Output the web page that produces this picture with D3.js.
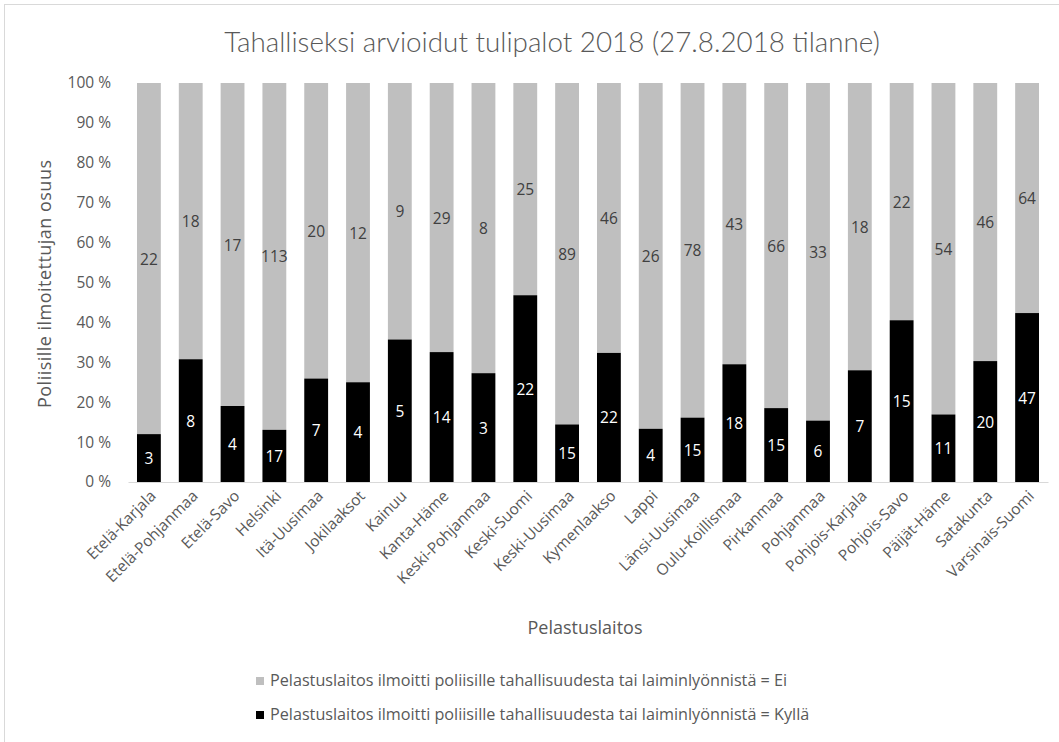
<!DOCTYPE html>
<html>
<head>
<meta charset="utf-8">
<script src="https://cdn.jsdelivr.net/npm/d3@7"></script>
<style>
  body { margin: 0; background: #fff; }
  text { font-family: "Open Sans", sans-serif; }
</style>
</head>
<body>
<svg id="chart" width="1059" height="742"></svg>
<script>
"use strict";

// Data
const laitokset = ["Etelä-Karjala", "Etelä-Pohjanmaa", "Etelä-Savo", "Helsinki", "Itä-Uusimaa",
  "Jokilaaksot", "Kainuu", "Kanta-Häme", "Keski-Pohjanmaa", "Keski-Suomi", "Keski-Uusimaa",
  "Kymenlaakso", "Lappi", "Länsi-Uusimaa", "Oulu-Koillismaa", "Pirkanmaa", "Pohjanmaa",
  "Pohjois-Karjala", "Pohjois-Savo", "Päijät-Häme", "Satakunta", "Varsinais-Suomi"];
const kylla = [3, 8, 4, 17, 7, 4, 5, 14, 3, 22, 15, 22, 4, 15, 18, 15, 6, 7, 15, 11, 20, 47];
const ei = [22, 18, 17, 113, 20, 12, 9, 29, 8, 25, 89, 46, 26, 78, 43, 66, 33, 18, 22, 54, 46, 64];
const yTicks = [0, 0.1, 0.2, 0.3, 0.4, 0.5, 0.6, 0.7, 0.8, 0.9, 1];
const legendLabels = [
  "Pelastuslaitos ilmoitti poliisille tahallisuudesta tai laiminlyönnistä = Ei",
  "Pelastuslaitos ilmoitti poliisille tahallisuudesta tai laiminlyönnistä = Kyllä"
];

const svg = d3.select("#chart");
const textCol = "#595959";

// chart border
svg.append("rect")
  .attr("x", 4.5).attr("y", 4.5)
  .attr("width", 1080).attr("height", 760)
  .attr("fill", "none").attr("stroke", "#d9d9d9");

const x = d3.scaleBand()
  .domain(laitokset)
  .range([128, 1048])
  .paddingInner(0.43)
  .paddingOuter(0.215);

const y = d3.scaleLinear().domain([0, 1]).range([482, 83]);

const rows = laitokset.map((name, i) => {
  const total = kylla[i] + ei[i];
  return { name, k: kylla[i], e: ei[i], kp: kylla[i] / total };
});

// title
svg.append("text")
  .attr("x", 552).attr("y", 52)
  .attr("text-anchor", "middle")
  .style("font-family", "Lato, sans-serif")
  .style("font-weight", "300")
  .style("font-size", "27.8px")
  .attr("fill", textCol)
  .text("Tahalliseksi arvioidut tulipalot 2018 (27.8.2018 tilanne)");

// y axis
const yAxis = svg.append("g")
  .attr("transform", "translate(128,0)")
  .call(d3.axisLeft(y).tickValues(yTicks).tickSize(0).tickPadding(17)
    .tickFormat(d => Math.round(d * 100) + " %"));
yAxis.select(".domain").remove();
yAxis.selectAll("text")
  .style("font-size", "15.5px")
  .attr("fill", textCol);

// bars
const bar = svg.append("g").selectAll("g")
  .data(rows).enter().append("g");

bar.append("rect")
  .attr("x", d => x(d.name))
  .attr("width", x.bandwidth())
  .attr("y", y(1))
  .attr("height", d => y(d.kp) - y(1))
  .attr("fill", "#bfbfbf");

bar.append("rect")
  .attr("x", d => x(d.name))
  .attr("width", x.bandwidth())
  .attr("y", d => y(d.kp))
  .attr("height", d => y(0) - y(d.kp))
  .attr("fill", "#000");

bar.append("text")
  .attr("x", d => x(d.name) + x.bandwidth() / 2)
  .attr("y", d => y((d.kp + 1) / 2) + 6)
  .attr("text-anchor", "middle")
  .style("font-size", "15.5px")
  .attr("fill", "#404040")
  .text(d => d.e);

bar.append("text")
  .attr("x", d => x(d.name) + x.bandwidth() / 2)
  .attr("y", d => y(d.kp / 2) + 6)
  .attr("text-anchor", "middle")
  .style("font-size", "15.5px")
  .attr("fill", "#fff")
  .text(d => d.k);

// x axis
const xAxis = svg.append("g")
  .attr("transform", "translate(0,482)")
  .call(d3.axisBottom(x).tickSize(0).tickPadding(0).tickSizeOuter(0));
xAxis.select(".domain").attr("stroke", "#d9d9d9");
xAxis.selectAll("text")
  .style("font-size", "15.5px")
  .attr("fill", textCol)
  .attr("text-anchor", "end")
  .attr("dy", 0)
  .attr("transform", "translate(8,15) rotate(-45)");

// axis titles
svg.append("text")
  .attr("transform", "translate(51,284) rotate(-90)")
  .attr("text-anchor", "middle")
  .style("font-size", "18px")
  .attr("textLength", 248)
  .attr("fill", textCol)
  .text("Poliisille ilmoitettujan osuus");

svg.append("text")
  .attr("x", 585).attr("y", 634)
  .attr("text-anchor", "middle")
  .style("font-size", "18px")
  .attr("fill", textCol)
  .text("Pelastuslaitos");

// legend
const legend = svg.append("g").selectAll("g")
  .data(legendLabels).enter().append("g")
  .attr("transform", (d, i) => `translate(256,${677 + i * 34})`);
legend.append("rect")
  .attr("width", 8).attr("height", 8)
  .attr("fill", (d, i) => i === 0 ? "#bfbfbf" : "#000");
legend.append("text")
  .attr("x", 14).attr("y", 9)
  .style("font-size", "16.2px")
  .attr("fill", textCol)
  .text(d => d);
</script>
</body>
</html>
